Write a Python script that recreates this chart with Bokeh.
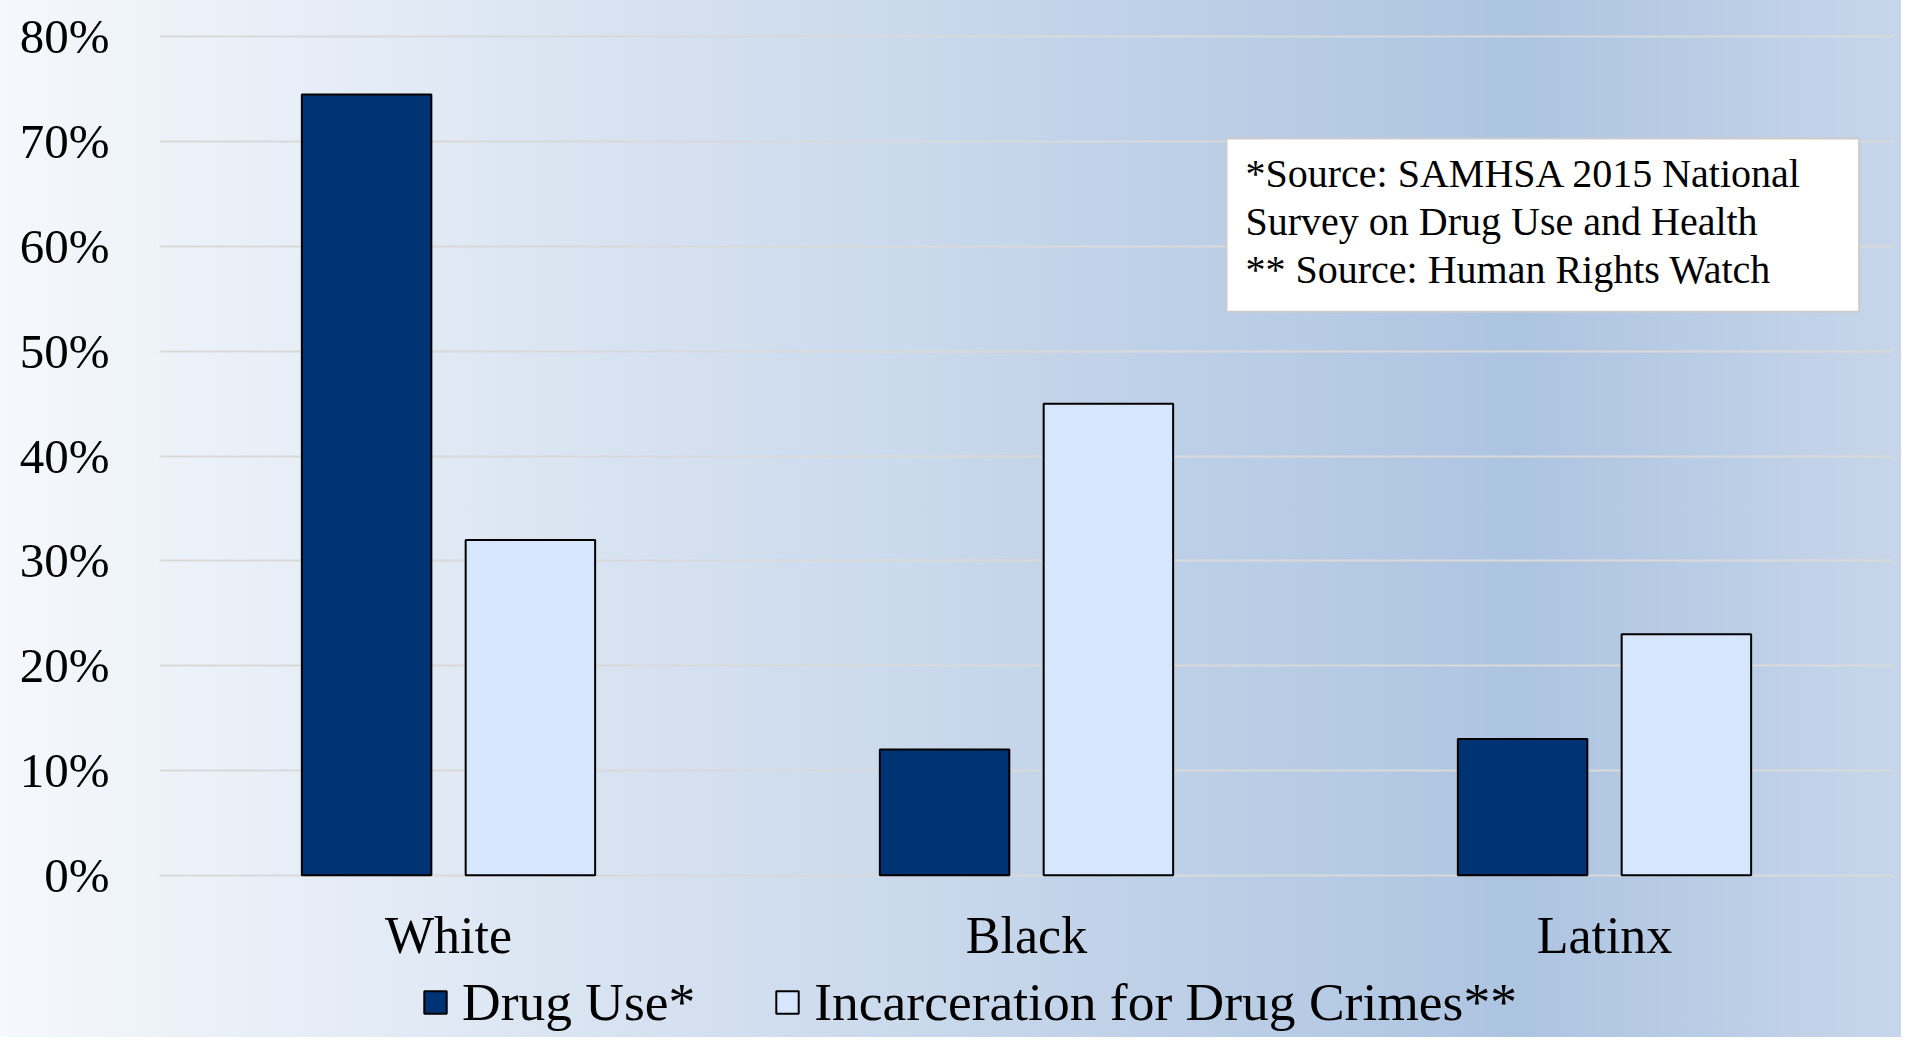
from bokeh.plotting import figure
from bokeh.models import (FactorRange, Range1d, FixedTicker, PrintfTickFormatter,
                          Legend, LegendItem, Label, ColumnDataSource)
from bokeh.transform import dodge
from bokeh.embed import file_html
from bokeh.resources import INLINE

# ---- data ----
groups = ["White", "Black", "Latinx"]
drug_use = [74.5, 12.0, 13.0]          # % of drug users (SAMHSA 2015)
incarceration = [32.0, 45.0, 23.0]     # % of incarcerated for drug crimes (HRW)
series_labels = ["Drug Use*", "Incarceration for Drug Crimes**"]
y_ticks = [0, 10, 20, 30, 40, 50, 60, 70, 80]
source_note = ("*Source: SAMHSA 2015 National\n"
               "Survey on Drug Use and Health\n"
               "** Source: Human Rights Watch")

FONT = "Liberation Serif"
DARK = "#003373"
LIGHT = "#d6e6fc"

src = ColumnDataSource(dict(g=groups, drug=drug_use, inc=incarceration))

# the frame runs down to the bottom of the canvas; the space below 0 holds
# the category labels and the legend
p = figure(width=1901, height=1037, x_range=FactorRange(*groups),
           y_range=Range1d(-15.48, 81), output_backend="svg", toolbar_location=None,
           min_border_left=159, min_border_right=8, min_border_top=26,
           min_border_bottom=0)

p.styles = {"background": "linear-gradient(to right, #f5f8fc 0%, #adc4e1 80%, #c7d6ea 100%)"}
p.background_fill_color = None
p.border_fill_color = None
p.outline_line_color = None

r1 = p.vbar(x=dodge("g", -0.1417, range=p.x_range), top="drug", width=0.224,
            source=src, fill_color=DARK, line_color="black", line_width=2)
r2 = p.vbar(x=dodge("g", 0.1417, range=p.x_range), top="inc", width=0.224,
            source=src, fill_color=LIGHT, line_color="black", line_width=2)

# grid
p.xgrid.grid_line_color = None
p.ygrid.grid_line_color = "#d9d9d9"
p.ygrid.grid_line_width = 2
p.ygrid.level = "underlay"

# y axis
p.yaxis.ticker = FixedTicker(ticks=y_ticks)
p.yaxis.formatter = PrintfTickFormatter(format="%d%%")
p.yaxis.axis_line_color = None
p.yaxis.major_tick_line_color = None
p.yaxis.minor_tick_line_color = None
p.yaxis.major_label_text_font = FONT
p.yaxis.major_label_text_font_size = "49px"
p.yaxis.major_label_text_color = "black"
p.yaxis.major_label_standoff = 44

# x axis, drawn at y = 0
p.xaxis.fixed_location = 0
p.xaxis.axis_line_color = None
p.xaxis.major_tick_line_color = None
p.xaxis.minor_tick_line_color = None
p.xaxis.major_label_text_font = FONT
p.xaxis.major_label_text_font_size = "52px"
p.xaxis.major_label_text_color = "black"
p.xaxis.major_label_standoff = 26

legend = Legend(items=[LegendItem(label=series_labels[0], renderers=[r1]),
                       LegendItem(label=series_labels[1], renderers=[r2])],
                orientation="horizontal", location=(262, 4),
                padding=0, margin=0, spacing=78,
                glyph_width=28, glyph_height=28, label_standoff=13,
                label_text_font=FONT, label_text_font_size="53.5px",
                label_text_color="black",
                background_fill_alpha=0, border_line_alpha=0)
p.add_layout(legend, "center")

note = Label(x=1067, y=899, x_units="screen", y_units="screen",
             text=source_note, text_font=FONT, text_font_size="40px",
             text_align="left", text_baseline="top", text_line_height=1.07,
             text_color="black",
             background_fill_color="white", border_line_color="#cccccc",
             border_line_width=2,
             padding=dict(left=19, right=57, top=12, bottom=20))
p.add_layout(note)

open("out.html", "w").write(file_html(p, INLINE))
